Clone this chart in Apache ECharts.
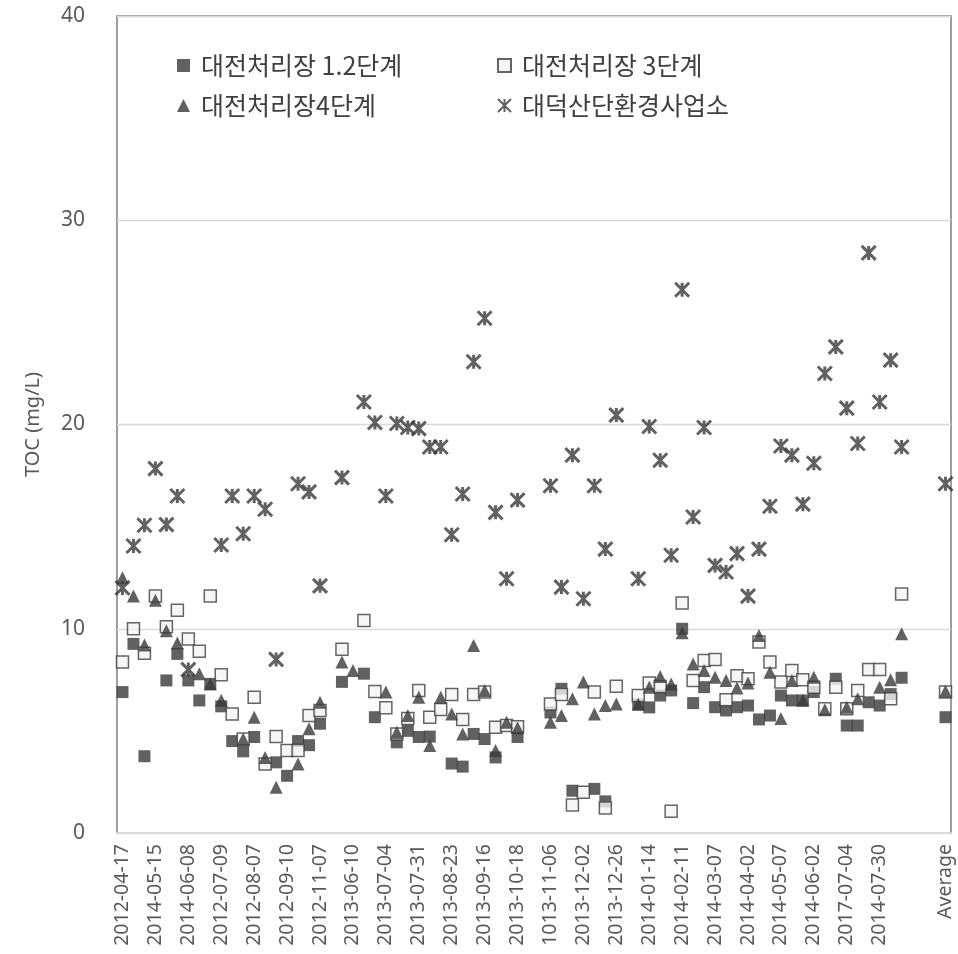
<!DOCTYPE html>
<html>
<head>
<meta charset="utf-8">
<script src="https://cdn.jsdelivr.net/npm/echarts@6/dist/echarts.min.js"></script>
<style>
html,body{margin:0;padding:0;background:#fff;}
#c{width:958px;height:954px;}
</style>
</head>
<body>
<div id="c"></div>
<script>
// Visible tick labels (every 3rd category); '' = blank slot
const tickLabels = ['2012-04-17','2014-05-15','2014-06-08','2012-07-09','2012-08-07','2012-09-10','2012-11-07',
  '2013-06-10','2013-07-04','2013-07-31','2013-08-23','2013-09-16','2013-10-18','1013-11-06','2013-12-02',
  '2013-12-26','2014-01-14','2014-02-11','2014-03-07','2014-04-02','2014-05-07','2014-06-02','2017-07-04',
  '2014-07-30','','Average'];
const seriesNames = ['대전처리장 1.2단계','대전처리장 3단계','대전처리장4단계','대덕산단환경사업소'];
const N = null;
// 대전처리장 1.2단계 (filled square)
const stage12 = [6.9,9.26,3.76,N,7.47,8.77,7.47,6.49,7.3,6.2,
  4.5,4.0,4.7,N,3.46,2.8,4.5,4.3,5.35,N,
  7.4,N,7.8,5.67,N,4.44,5.0,4.7,4.72,N,
  3.4,3.25,4.85,4.6,3.7,N,4.7,N,N,5.9,
  7.06,2.07,N,2.16,1.55,N,N,6.3,6.15,6.73,
  6.98,10.0,6.36,7.14,6.16,6.0,6.16,6.24,5.56,5.75,
  6.73,6.49,6.49,6.9,N,7.55,5.26,5.26,6.4,6.24,
  6.8,7.6,N,N,N,5.67];
// 대전처리장 3단계 (hollow square)
const stage3 = [8.37,10.0,8.8,11.6,10.1,10.9,9.5,8.9,11.6,7.75,
  5.83,4.6,6.65,3.38,4.72,4.04,4.04,5.75,6.0,N,
  9.0,N,10.4,6.93,6.13,4.85,5.6,6.98,5.67,6.05,
  6.78,5.56,6.78,6.9,5.18,5.26,5.2,N,N,6.32,
  6.78,1.37,2.0,6.9,1.23,7.19,N,6.73,7.34,7.17,
  1.06,11.26,7.47,8.45,8.5,6.52,7.7,7.55,9.35,8.37,
  7.39,7.96,7.5,7.14,6.08,7.14,6.08,6.98,8.0,8.0,
  6.57,11.7,N,N,N,6.9];
// 대전처리장4단계 (triangle)
const stage4 = [12.5,11.6,9.2,11.4,9.9,9.3,N,7.8,7.3,6.5,
  N,4.6,5.67,3.7,2.24,N,3.38,5.1,6.4,N,
  8.37,7.96,N,N,6.9,4.93,5.75,6.65,4.28,6.65,
  5.83,4.85,9.18,6.98,4.04,5.42,5.15,N,N,5.42,
  5.75,6.57,7.39,5.83,6.24,6.32,N,6.3,7.14,7.66,
  7.3,9.8,8.28,7.96,7.63,7.47,7.1,7.35,9.67,7.87,
  5.6,7.47,6.5,7.63,6.03,N,6.16,6.57,N,7.14,
  7.5,9.75,N,N,N,6.94];
// 대덕산단환경사업소 (star)
const daedeok = [12.0,14.05,15.07,17.84,15.1,16.5,8.0,N,N,14.1,
  16.5,14.65,16.5,15.85,8.5,N,17.1,16.7,12.1,N,
  17.4,N,21.1,20.1,16.5,20.05,19.85,19.8,18.9,18.9,
  14.6,16.6,23.07,25.2,15.7,12.45,16.3,N,N,17.0,
  12.04,18.5,11.47,17.0,13.9,20.46,N,12.45,19.9,18.25,
  13.6,26.6,15.47,19.85,13.1,12.78,13.68,11.6,13.9,16.0,
  18.95,18.5,16.1,18.1,22.5,23.8,20.8,19.07,28.4,21.1,
  23.15,18.9,N,N,N,17.1];

const categories = [];
for (let i = 0; i < stage12.length; i++) {
  categories.push(i % 3 === 0 ? tickLabels[i / 3] : ' '.repeat(1 + (i % 3)));
}

const dark = '#3a3a3a';
const chart = echarts.init(document.getElementById('c'), null, {renderer: 'canvas'});
const legendText = {fontFamily: 'Noto Sans CJK KR', fontSize: 25, color: '#404040', padding: [0,0,0,6]};
chart.setOption({
  animation: false,
  backgroundColor: '#fff',
  grid: {left: 117, right: 7, top: 16, bottom: 121, show: true, borderColor: '#7f7f7f', borderWidth: 1.5, backgroundColor: 'transparent'},
  legend: [
    {data: [seriesNames[0], seriesNames[2]], orient: 'vertical', left: 172, top: 48, itemWidth: 13, itemHeight: 13, itemGap: 15, textStyle: legendText},
    {data: [seriesNames[1], seriesNames[3]], orient: 'vertical', left: 492, top: 48, itemWidth: 13, itemHeight: 13, itemGap: 15, textStyle: legendText}
  ],
  xAxis: {
    type: 'category', data: categories, boundaryGap: true,
    axisTick: {show: false},
    axisLine: {show: true, lineStyle: {color: '#d9d9d9', width: 2}},
    splitLine: {show: false},
    axisLabel: {interval: 2, rotate: 90, margin: 11, fontFamily: 'Noto Sans', fontSize: 19.5, color: '#595959'}
  },
  yAxis: {
    type: 'value', min: 0, max: 40, interval: 10,
    axisLine: {show: false}, axisTick: {show: false},
    splitLine: {lineStyle: {color: '#d9d9d9', width: 1.3}},
    axisLabel: {margin: 32, fontFamily: 'Noto Sans', fontSize: 21, color: '#595959'},
    name: 'TOC (mg/L)', nameLocation: 'middle', nameGap: 74, nameMoveOverlap: false,
    nameTextStyle: {fontFamily: 'Noto Sans', fontSize: 20, color: '#595959'}
  },
  series: [
    {name: seriesNames[0], type: 'scatter', data: stage12, symbol: 'rect', symbolSize: 12,
     itemStyle: {color: dark}},
    {name: seriesNames[1], type: 'scatter', data: stage3, symbol: 'rect', symbolSize: 12,
     itemStyle: {color: '#f4f4f4', borderColor: '#404040', borderWidth: 1.5}},
    {name: seriesNames[2], type: 'scatter', data: stage4, symbol: 'triangle', symbolSize: 13,
     itemStyle: {color: dark}},
    {name: seriesNames[3], type: 'scatter', data: daedeok, symbol: 'path://M0,0L10,10M10,0L0,10M5,0L5,10', symbolSize: 14,
     itemStyle: {color: 'rgba(0,0,0,0)', borderColor: dark, borderWidth: 3}}
  ]
});
</script>
</body>
</html>
